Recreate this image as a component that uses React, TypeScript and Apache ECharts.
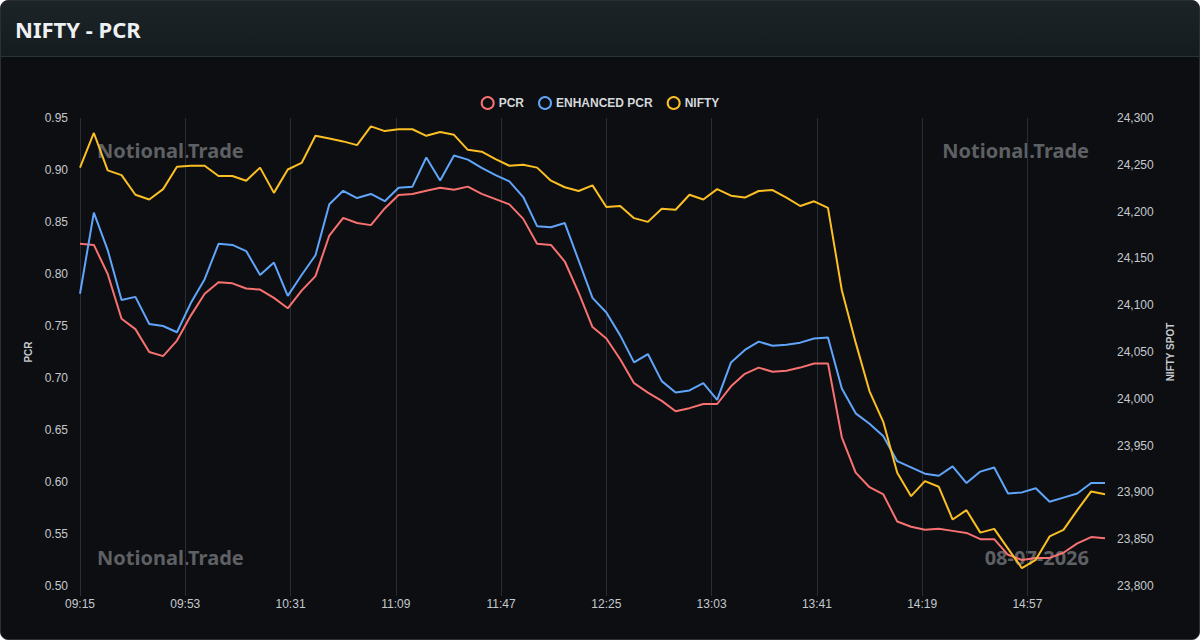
import React, { useEffect, useRef } from "react";
import * as echarts from "echarts";

// ---- data (sampled every 5 minutes from 09:15) ----
const START_TIME = "09:15";
const END_TIME = "15:25";
const SAMPLE_STEP_MIN = 5;

const PCR = [
  0.829, 0.828, 0.800, 0.757, 0.747, 0.725, 0.721, 0.736, 0.760, 0.781,
  0.792, 0.791, 0.786, 0.785, 0.777, 0.767, 0.784, 0.798, 0.837, 0.854,
  0.849, 0.847, 0.863, 0.876, 0.877, 0.880, 0.883, 0.881, 0.884, 0.877,
  0.872, 0.867, 0.853, 0.829, 0.828, 0.812, 0.782, 0.749, 0.738, 0.718,
  0.695, 0.686, 0.678, 0.668, 0.671, 0.675, 0.675, 0.692, 0.704, 0.710,
  0.706, 0.707, 0.710, 0.714, 0.714, 0.643, 0.609, 0.595, 0.588, 0.562,
  0.557, 0.554, 0.555, 0.553, 0.551, 0.545, 0.545, 0.530, 0.525, 0.527,
  0.527, 0.532, 0.541, 0.547, 0.546,
];

const ENHANCED_PCR = [
  0.781, 0.859, 0.823, 0.775, 0.778, 0.752, 0.750, 0.744, 0.772, 0.795,
  0.829, 0.828, 0.822, 0.799, 0.811, 0.779, 0.799, 0.818, 0.867, 0.880,
  0.873, 0.877, 0.870, 0.883, 0.884, 0.912, 0.890, 0.914, 0.910, 0.902,
  0.895, 0.889, 0.874, 0.846, 0.845, 0.849, 0.813, 0.777, 0.763, 0.741,
  0.715, 0.723, 0.697, 0.686, 0.688, 0.695, 0.679, 0.715, 0.727, 0.735,
  0.731, 0.732, 0.734, 0.738, 0.739, 0.690, 0.666, 0.656, 0.644, 0.620,
  0.614, 0.608, 0.606, 0.615, 0.599, 0.610, 0.614, 0.589, 0.590, 0.594,
  0.581, 0.585, 0.589, 0.599, 0.599,
];

const NIFTY = [
  24247, 24284, 24244, 24239, 24218, 24213, 24224, 24248, 24249, 24249,
  24238, 24238, 24233, 24247, 24220, 24245, 24252, 24281, 24278, 24275,
  24271, 24291, 24286, 24288, 24288, 24281, 24285, 24282, 24266, 24264,
  24256, 24249, 24250, 24247, 24233, 24226, 24222, 24228, 24205, 24206,
  24193, 24189, 24203, 24202, 24218, 24213, 24224, 24217, 24215, 24222,
  24223, 24215, 24206, 24211, 24204, 24116, 24060, 24008, 23975, 23921,
  23896, 23912, 23906, 23871, 23881, 23857, 23861, 23840, 23819, 23828,
  23853, 23860, 23881, 23901, 23898,
];

const LEGEND = ["PCR", "ENHANCED PCR", "NIFTY"];
const COLORS = ["#f87171", "#60a5fa", "#fbbf24"];
const WATERMARK = "Notional.Trade";
const DATE_TEXT = "08-07-2026";

const toMin = (s: string) => {
  const [h, m] = s.split(":").map(Number);
  return h * 60 + m;
};
const fmt = (m: number) =>
  String(Math.floor(m / 60)).padStart(2, "0") + ":" + String(m % 60).padStart(2, "0");

// one category per minute
const CATEGORIES: string[] = [];
for (let m = toMin(START_TIME); m <= toMin(END_TIME); m++) CATEGORIES.push(fmt(m));
const sampleTime = (i: number) => fmt(toMin(START_TIME) + i * SAMPLE_STEP_MIN);

export default function App() {
  const ref = useRef<HTMLDivElement>(null);

  useEffect(() => {
    if (!ref.current) return;
    const chart = echarts.init(ref.current, undefined, { renderer: "svg" });
    const axisFont = "'Liberation Sans', Arial, sans-serif";
    const wmFont = "'Noto Sans', 'Open Sans', sans-serif";
    const labelColor = "#c5c9ce";
    const gridColor = "#2a2d33";

    const mk = (vals: number[]) => vals.map((v, i) => [sampleTime(i), v]);

    chart.setOption({
      animation: false,
      backgroundColor: "transparent",
      grid: { left: 80, right: 95, top: 118, bottom: 54 },
      legend: {
        top: 91,
        left: "center",
        icon: "circle",
        itemWidth: 12,
        itemHeight: 12,
        itemGap: 14,
        textStyle: { color: "#d4d8dc", fontSize: 12, fontWeight: "bold", fontFamily: axisFont },
        data: LEGEND.map((n, i) => ({
          name: n,
          itemStyle: { color: "transparent", borderColor: COLORS[i], borderWidth: 2 },
        })),
      },
      xAxis: {
        type: "category",
        boundaryGap: false,
        data: CATEGORIES,
        axisLine: { show: false },
        axisTick: { show: true, interval: 37, length: 10, lineStyle: { color: gridColor } },
        axisLabel: {
          interval: 37,
          color: labelColor,
          fontSize: 12,
          fontFamily: axisFont,
          margin: 12,
        },
        splitLine: { show: true, interval: 37, lineStyle: { color: gridColor, width: 1 } },
      },
      yAxis: [
        {
          type: "value",
          min: 0.5,
          max: 0.95,
          interval: 0.05,
          name: "PCR",
          nameLocation: "middle",
          nameGap: 45,
          nameTextStyle: { color: labelColor, fontSize: 10, fontWeight: "bold", fontFamily: axisFont },
          axisLine: { show: false },
          axisTick: { show: false },
          splitLine: { show: false },
          axisLabel: {
            color: labelColor,
            fontSize: 12,
            fontFamily: axisFont,
            margin: 12,
            formatter: (v: number) => v.toFixed(2),
          },
        },
        {
          type: "value",
          min: 23800,
          max: 24300,
          interval: 50,
          name: "NIFTY SPOT",
          nameLocation: "middle",
          nameGap: 60,
          nameTextStyle: { color: labelColor, fontSize: 10, fontWeight: "bold", fontFamily: axisFont },
          axisLine: { show: false },
          axisTick: { show: false },
          splitLine: { show: false },
          axisLabel: {
            color: labelColor,
            fontSize: 12,
            fontFamily: axisFont,
            margin: 12,
            formatter: (v: number) => v.toLocaleString("en-US"),
          },
        },
      ],
      graphic: [
        {
          type: "text",
          left: 97,
          top: 140,
          z: 0,
          style: { text: WATERMARK, fill: "#5e6064", font: `bold 20px ${wmFont}` },
        },
        {
          type: "text",
          right: 111,
          top: 140,
          z: 0,
          style: { text: WATERMARK, fill: "#5e6064", font: `bold 20px ${wmFont}` },
        },
        {
          type: "text",
          left: 97,
          top: 547,
          z: 0,
          style: { text: WATERMARK, fill: "#5e6064", font: `bold 20px ${wmFont}` },
        },
        {
          type: "text",
          right: 111,
          top: 547,
          z: 0,
          style: { text: DATE_TEXT, fill: "#5e6064", font: `bold 20px ${wmFont}` },
        },
      ],
      series: [
        {
          name: LEGEND[0],
          type: "line",
          yAxisIndex: 0,
          data: mk(PCR),
          showSymbol: false,
          lineStyle: { color: COLORS[0], width: 2 },
          itemStyle: { color: COLORS[0] },
        },
        {
          name: LEGEND[1],
          type: "line",
          yAxisIndex: 0,
          data: mk(ENHANCED_PCR),
          showSymbol: false,
          lineStyle: { color: COLORS[1], width: 2 },
          itemStyle: { color: COLORS[1] },
        },
        {
          name: LEGEND[2],
          type: "line",
          yAxisIndex: 1,
          data: mk(NIFTY),
          showSymbol: false,
          lineStyle: { color: COLORS[2], width: 2 },
          itemStyle: { color: COLORS[2] },
        },
      ],
    });
    return () => chart.dispose();
  }, []);

  return (
    <div
      style={{
        position: "fixed",
        left: 0,
        top: 0,
        width: 1200,
        height: 640,
        background: "#0c0e11",
        boxSizing: "border-box",
        border: "1px solid #2b3035",
        borderRadius: 8,
        overflow: "hidden",
      }}
    >
      <div
        style={{
          position: "absolute",
          left: 0,
          top: 0,
          right: 0,
          height: 56,
          boxSizing: "border-box",
          background: "linear-gradient(180deg, #1c2427 0%, #151c1f 100%)",
          borderBottom: "1px solid #2a3337",
          display: "flex",
          alignItems: "center",
          paddingLeft: 14,
          color: "#eef0f2",
          fontFamily: "'Noto Sans', 'Open Sans', sans-serif",
          fontWeight: 700,
          fontSize: 22,
        }}
      >
        NIFTY - PCR
      </div>
      <div
        ref={ref}
        style={{ position: "absolute", left: -1, top: -1, width: 1200, height: 640 }}
      />
    </div>
  );
}
